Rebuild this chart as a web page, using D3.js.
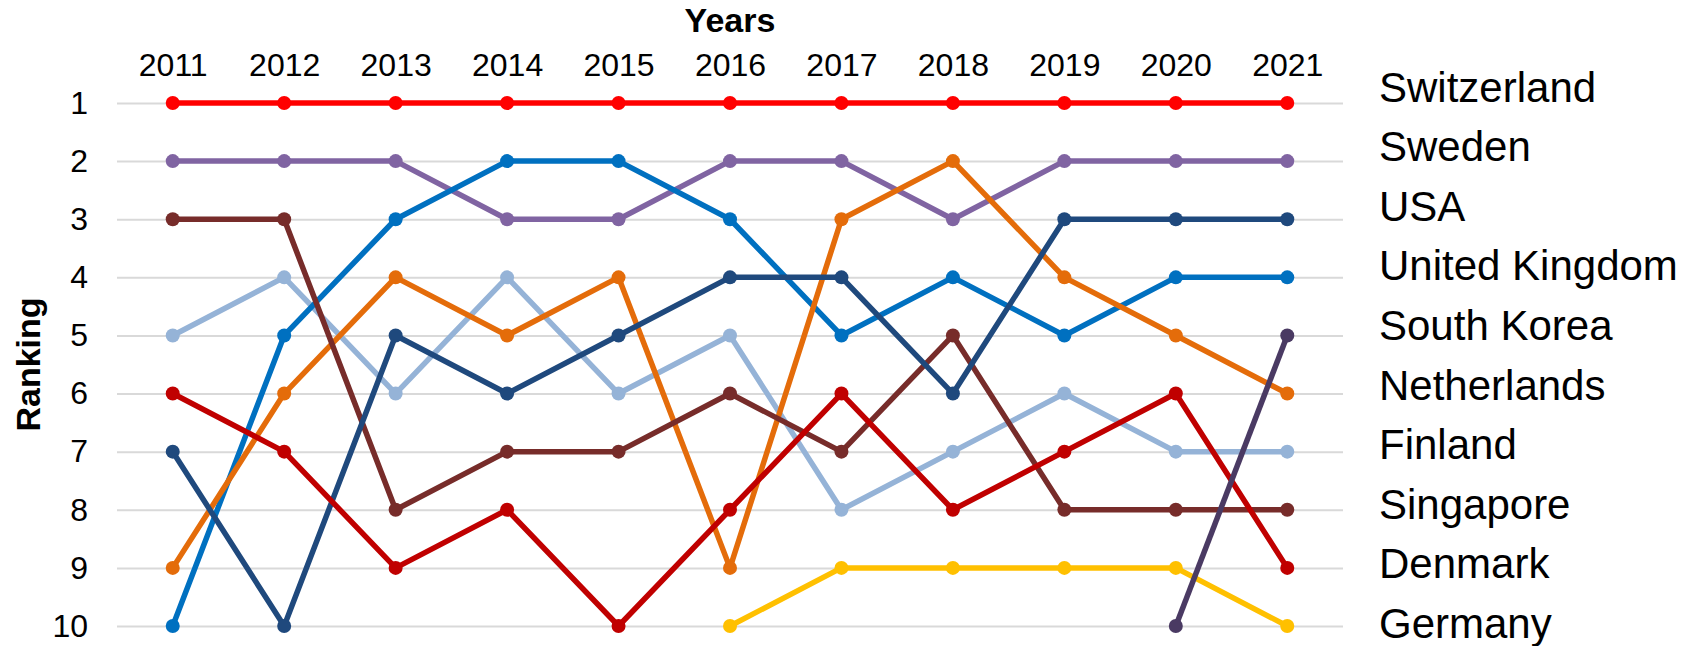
<!DOCTYPE html>
<html>
<head>
<meta charset="utf-8">
<script src="https://cdn.jsdelivr.net/npm/d3@7"></script>
<style>
    body { margin: 0; background: #fff; }
    svg { display: block; font-family: "Liberation Sans", Arial, sans-serif; }
    .grid line { stroke: #d9d9d9; stroke-width: 2; }
    .grid .domain { display: none; }
</style>
</head>
<body>
<svg id="chart"></svg>
<script>
const years = ['2011', '2012', '2013', '2014', '2015', '2016', '2017', '2018', '2019', '2020', '2021'];
const ranks = [1, 2, 3, 4, 5, 6, 7, 8, 9, 10];

// legend order on the right side
const countries = ['Switzerland', 'Sweden', 'USA', 'United Kingdom', 'South Korea',
    'Netherlands', 'Finland', 'Singapore', 'Denmark', 'Germany'];

// ranking per year, null = not in top 10
const switzerland = [1, 1, 1, 1, 1, 1, 1, 1, 1, 1, 1];
const sweden = [2, 2, 2, 3, 3, 2, 2, 3, 2, 2, 2];
const usa = [7, 10, 5, 6, 5, 4, 4, 6, 3, 3, 3];
const unitedKingdom = [10, 5, 3, 2, 2, 3, 5, 4, 5, 4, 4];
const southKorea = [null, null, null, null, null, null, null, null, null, 10, 5];
const netherlands = [9, 6, 4, 5, 4, 9, 3, 2, 4, 5, 6];
const finland = [5, 4, 6, 4, 6, 5, 8, 7, 6, 7, 7];
const singapore = [3, 3, 8, 7, 7, 6, 7, 5, 8, 8, 8];
const denmark = [6, 7, 9, 8, 10, 8, 6, 8, 7, 6, 9];
const germany = [null, null, null, null, null, 10, 9, 9, 9, 9, 10];

const colors = {
    'Switzerland': '#ff0000',
    'Sweden': '#8064a2',
    'USA': '#1f497d',
    'United Kingdom': '#0070c0',
    'South Korea': '#4a3a63',
    'Netherlands': '#e46c0a',
    'Finland': '#95b3d7',
    'Singapore': '#772c2a',
    'Denmark': '#c00000',
    'Germany': '#ffc000'
};

const seriesValues = {
    'Switzerland': switzerland,
    'Sweden': sweden,
    'USA': usa,
    'United Kingdom': unitedKingdom,
    'South Korea': southKorea,
    'Netherlands': netherlands,
    'Finland': finland,
    'Singapore': singapore,
    'Denmark': denmark,
    'Germany': germany
};

// drawing order, bottom first
const drawOrder = ['Sweden', 'Finland', 'United Kingdom', 'Netherlands', 'Singapore',
    'USA', 'Denmark', 'Germany', 'South Korea', 'Switzerland'];

const width = 1698;
const height = 646;
const margin = { top: 103, right: 355, bottom: 20, left: 117 };

const svg = d3.select('#chart')
    .attr('width', width)
    .attr('height', height);

const xScale = d3.scalePoint()
    .domain(years)
    .range([margin.left, width - margin.right])
    .padding(0.5);

const yScale = d3.scaleLinear()
    .domain([1, 10])
    .range([margin.top, height - margin.bottom]);

// legend rows are spaced a bit wider than the grid
const legendY = d3.scaleLinear()
    .domain([1, 10])
    .range([101.5, 638]);

// gridlines
const yGrid = d3.axisLeft(yScale)
    .tickValues(ranks)
    .tickSize(-(width - margin.left - margin.right))
    .tickFormat('');

svg.append('g')
    .attr('class', 'grid')
    .attr('transform', `translate(${margin.left}, 0)`)
    .call(yGrid);

// year labels on top
const xAxis = d3.axisTop(xScale).tickSize(0).tickPadding(27);
const gx = svg.append('g')
    .attr('transform', `translate(0, ${margin.top})`)
    .call(xAxis);
gx.select('.domain').remove();
gx.selectAll('text')
    .attr('font-size', '32px')
    .attr('font-family', '"Liberation Sans", Arial, sans-serif')
    .attr('fill', '#000');

// rank labels on the left
const yAxis = d3.axisLeft(yScale).tickValues(ranks).tickSize(0).tickPadding(29).tickFormat(d3.format('d'));
const gy = svg.append('g')
    .attr('transform', `translate(${margin.left}, 0)`)
    .call(yAxis);
gy.select('.domain').remove();
gy.selectAll('text')
    .attr('font-size', '32px')
    .attr('font-family', '"Liberation Sans", Arial, sans-serif')
    .attr('fill', '#000');

svg.append('text')
    .attr('x', (margin.left + width - margin.right) / 2)
    .attr('y', 32)
    .attr('text-anchor', 'middle')
    .attr('font-size', '34px')
    .attr('font-weight', 'bold')
    .text('Years');

svg.append('text')
    .attr('transform', `translate(40, ${(margin.top + height - margin.bottom) / 2}) rotate(-90)`)
    .attr('text-anchor', 'middle')
    .attr('font-size', '34px')
    .attr('font-weight', 'bold')
    .text('Ranking');

const line = d3.line()
    .defined(d => d.value != null)
    .x(d => xScale(d.year))
    .y(d => yScale(d.value));

drawOrder.forEach(country => {
    const data = years.map((year, i) => ({ year: year, value: seriesValues[country][i] }));
    const g = svg.append('g').attr('class', 'series');

    g.append('path')
        .datum(data)
        .attr('fill', 'none')
        .attr('stroke', colors[country])
        .attr('stroke-width', 5.5)
        .attr('stroke-linejoin', 'round')
        .attr('d', line);

    g.selectAll('circle')
        .data(data.filter(d => d.value != null))
        .join('circle')
        .attr('cx', d => xScale(d.year))
        .attr('cy', d => yScale(d.value))
        .attr('r', 7)
        .attr('fill', colors[country]);
});

// country labels on the right, one per rank row
svg.append('g')
    .selectAll('text')
    .data(countries)
    .join('text')
    .attr('x', 1379)
    .attr('y', (d, i) => legendY(ranks[i]))
    .attr('font-size', '42px')
    .attr('fill', '#000')
    .text(d => d);
</script>
</body>
</html>
